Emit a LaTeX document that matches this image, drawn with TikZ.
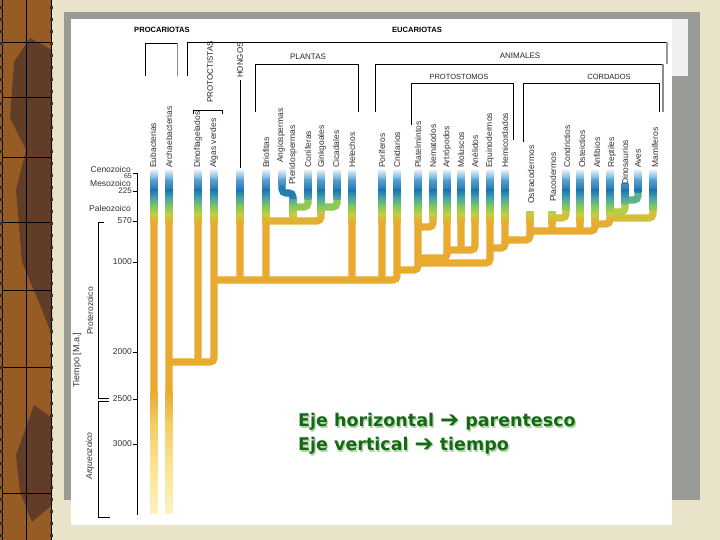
\documentclass[tikz,border=0pt]{standalone}
\usepackage{fontspec}
\setmainfont{Liberation Sans}
\newfontfamily\dejavu{DejaVu Sans}
\definecolor{bg}{RGB}{233,227,201}
\definecolor{brownA}{RGB}{150,92,36}
\definecolor{brownB}{RGB}{88,56,40}
\definecolor{framegray}{RGB}{155,155,150}
\definecolor{labgray}{RGB}{50,50,50}
\definecolor{g0}{RGB}{228,240,247}
\definecolor{g1}{RGB}{85,160,208}
\definecolor{g2}{RGB}{32,118,178}
\definecolor{g3}{RGB}{72,165,168}
\definecolor{g4}{RGB}{128,200,96}
\definecolor{g5}{RGB}{196,205,62}
\definecolor{g6}{RGB}{233,170,48}
\definecolor{g7}{RGB}{244,206,102}
\definecolor{g8}{RGB}{250,230,150}
\definecolor{g9}{RGB}{252,242,196}
\definecolor{eje}{RGB}{22,104,22}
\definecolor{ejeshadow}{RGB}{178,214,170}
\newcommand\gbar[3]{%
\begin{scope}
\clip ({#1-3.6},#2) rectangle ({#1+3.6},#3);
\shade[top color=g0,bottom color=g1] ({#1-3.6},170) rectangle ({#1+3.6},180.4);
\shade[top color=g1,bottom color=g2] ({#1-3.6},180) rectangle ({#1+3.6},190.4);
\shade[top color=g2,bottom color=g3] ({#1-3.6},190) rectangle ({#1+3.6},198.4);
\shade[top color=g3,bottom color=g4] ({#1-3.6},198) rectangle ({#1+3.6},206.4);
\shade[top color=g4,bottom color=g5] ({#1-3.6},206) rectangle ({#1+3.6},214.4);
\shade[top color=g5,bottom color=g6] ({#1-3.6},214) rectangle ({#1+3.6},222.4);
\fill[g6] ({#1-3.6},222) rectangle ({#1+3.6},390.4);
\shade[top color=g6,bottom color=g7] ({#1-3.6},390) rectangle ({#1+3.6},425.4);
\shade[top color=g7,bottom color=g8] ({#1-3.6},425) rectangle ({#1+3.6},470.4);
\shade[top color=g8,bottom color=g9] ({#1-3.6},470) rectangle ({#1+3.6},516);
\end{scope}}
\tikzset{
  conn/.style={line width=7.2pt, rounded corners=4pt},
  lbl/.style={rotate=90, anchor=west, inner sep=0pt, text=labgray, font=\fontsize{8.5}{9}\selectfont},
  head/.style={inner sep=0pt, text=black, font=\fontsize{7.6}{8}\selectfont\bfseries},
  grp/.style={inner sep=0pt, text=black!85, font=\fontsize{8}{9}\selectfont},
  axl/.style={inner sep=0pt, anchor=east, text=labgray, font=\fontsize{8.5}{9}\selectfont},
  brk/.style={line width=0.9pt, black},
  ejet/.style={anchor=west, inner sep=0pt, font=\dejavu\bfseries\fontsize{17.5}{19}\selectfont}
}
\newcommand\bigarrow{\raisebox{-0.5pt}{\scalebox{1.3}{➔}}}
\begin{document}
\begin{tikzpicture}[x=1pt,y=-1pt]
\useasboundingbox (0,0) rectangle (720,540);
\fill[bg] (0,0) rectangle (720,540);
% notebook strip
\fill[brownA] (0,0) rectangle (52,540);
\fill[brownB, opacity=0.85] (14,62) -- (30,38) -- (52,50) -- (52,335) -- (38,300) -- (22,262) -- (16,190) -- (26,150) -- (10,118) -- cycle;
\fill[brownB, opacity=0.85] (16,455) -- (34,405) -- (52,418) -- (52,505) -- (32,522) -- (20,492) -- cycle;
\draw[black, line width=0.9pt] (2,0) -- (2,540) (51,0) -- (51,540) (26,0) -- (26,540);
\foreach \yy in {42,97,157,222,290,367,493} \draw[black, line width=0.8pt] (2,\yy) -- (51,\yy);
\foreach \yy in {6,18,...,540} {\fill[black!80] (0,\yy) rectangle (2.5,{\yy+3}); \fill[black!80] (50,\yy) rectangle (53,{\yy+3});}
% slide frame
\fill[framegray] (64,12) rectangle (700,500);
\fill[white] (71,19) rectangle (672,525);
\fill[white!94!black] (672,19) rectangle (688,76);
% top brackets
\node[head] (procar) at (162,30) {PROCARIOTAS};
\node[head] (eucar) at (417,30) {EUCARIOTAS};
\draw[brk] (145,76) -- (145,43) -- (177,43);
\draw[line width=0.9pt, black!45] (177,43) -- (177,76);
\draw[brk] (187,76) -- (187,42) -- (667,42);
\draw[line width=1.2pt, black!40] (667,42) -- (667,64);
\node[grp, rotate=90, anchor=west] (protoc) at (210,103) {PROTOCTISTAS};
\draw[brk] (193,114) -- (193,110) -- (222,110) -- (222,114);
\node[grp, rotate=90, anchor=west] (hongos) at (240,78) {HONGOS};
\draw[brk] (240,80) -- (240,168);
\node[grp] (plantas) at (308,57) {PLANTAS};
\draw[brk] (255,112) -- (255,64) -- (358,64) -- (358,112);
\node[grp] (animales) at (520,56) {ANIMALES};
\draw[brk] (375,112) -- (375,64) -- (663,64);
\draw[line width=1.1pt, black!45] (663,64) -- (663,112);
\node[grp, font=\fontsize{7.5}{8}\selectfont] (protost) at (459,77) {PROTOSTOMOS};
\draw[brk] (411,125) -- (411,83) -- (513,83) -- (513,140);
\node[grp, font=\fontsize{7.5}{8}\selectfont] (cordados) at (609,77) {CORDADOS};
\draw[brk] (523,142) -- (523,83) -- (659,83) -- (659,112);
% time axis
\draw[line width=0.8pt, black] (133,173) -- (137,173) -- (137,515);
\foreach \yy in {191,221,262,352,399,444} \draw[line width=0.8pt] (133,\yy) -- (137,\yy);
\node[axl] (cen) at (131,169) {Cenozoico};
\node[axl, font=\fontsize{7}{8}\selectfont] (t65) at (132,176) {65};
\node[axl] (mes) at (131,183) {Mesozoico};
\node[axl, font=\fontsize{8}{9}\selectfont] (t225) at (132,191) {225};
\node[axl] (pal) at (131,208) {Paleozoico};
\node[axl] (t570) at (132,221) {570};
\node[axl] (t1000) at (132,262) {1000};
\node[axl] (t2000) at (132,352) {2000};
\node[axl] (t2500) at (132,399) {2500};
\node[axl] (t3000) at (132,444) {3000};
\draw[line width=0.8pt] (104,222) -- (98,222) -- (98,398) -- (109,398);
\draw[line width=0.8pt] (109,401) -- (98,401) -- (98,517) -- (110,517);
\node[inner sep=0pt, rotate=90, text=labgray, font=\fontsize{8.5}{9}\selectfont] (prot) at (90,311) {Proterozoico};
\node[inner sep=0pt, rotate=90, text=labgray, font=\itshape\fontsize{8.5}{9}\selectfont] (arq) at (90,456) {Arqueozoico};
\node[inner sep=0pt, rotate=90, text=labgray, font=\fontsize{9}{10}\selectfont] (tiempo) at (77,360) {Tiempo [M.a.]};
% ---------- tree connectors ----------
\draw[conn, g6] (214,354) -- (214,362) -- (169,362);
\draw[conn, g6] (397,272) -- (397,280) -- (214,280);
% plants
\draw[conn, g6!80!g5] (321,214) -- (321,221) -- (266,221);
\draw[conn, g4!80!g5] (337,200) -- (337,207) -- (321,207);
\draw[conn, g2!85!g3] (282,186) -- (282,193) -- (293,193) -- (293,200);
\draw[conn, g4!80!g5] (308,200) -- (308,207) -- (293,207);
% animals
\draw[conn, g6] (418,263) -- (418,270) -- (397,270);
\draw[conn, g6!90!g5] (433,220) -- (433,227) -- (418,227);
\draw[conn, g6] (475,243) -- (475,250) -- (447,250);
\draw[conn, g6] (447,251) -- (447,258) -- (418,258);
\draw[conn, g6] (490,256) -- (490,263) -- (418,263);
\draw[conn, g6] (505,241) -- (505,248) -- (490,248);
\draw[conn, g6] (530,233) -- (530,240) -- (505,240);
\draw[conn, g3!60!g4] (638,193) -- (638,200) -- (625,200);
\draw[conn, g5!80!g4] (625,205) -- (625,212) -- (610,212);
\draw[conn, g5!60!g6] (653,211) -- (653,218) -- (610,218);
\draw[conn, g6!85!g5] (610,217) -- (610,224) -- (595,224);
\draw[conn, g6] (595,224) -- (595,231) -- (530,231);
\draw[conn, g5!60!g6] (566,211) -- (566,218) -- (552,218);
% ---------- gradient branches ----------
\gbar{154}{170}{513}
\gbar{169}{170}{513}
\gbar{198}{170}{362}
\gbar{214}{170}{354}
\gbar{240}{170}{280}
\gbar{266}{170}{280}
\gbar{282}{170}{186}
\gbar{293}{200}{221}
\gbar{308}{170}{200}
\gbar{321}{170}{214}
\gbar{337}{170}{200}
\gbar{352}{170}{280}
\gbar{382}{170}{280}
\gbar{397}{170}{272}
\gbar{418}{170}{263}
\gbar{433}{170}{220}
\gbar{447}{170}{251}
\gbar{461}{170}{250}
\gbar{475}{170}{243}
\gbar{490}{170}{256}
\gbar{505}{170}{241}
\gbar{530}{212}{233}
\gbar{552}{212}{231}
\gbar{566}{170}{211}
\gbar{580}{170}{231}
\gbar{595}{170}{224}
\gbar{610}{170}{217}
\gbar{625}{184}{205}
\gbar{638}{170}{193}
\gbar{653}{170}{211}
% ---------- labels ----------
\node[lbl] (l1) at (153,168) {Eubacterias};
\node[lbl] (l2) at (169,168) {Archaebacterias};
\node[lbl] (l3) at (198,168) {Dinoflagelados};
\node[lbl] (l4) at (214,168) {Algas verdes};
\node[lbl] (l5) at (266,168) {Briofitas};
\node[lbl] (l6) at (281,163) {Angiospermas};
\node[lbl] (l7) at (293,185) {Pteridospermas};
\node[lbl] (l8) at (308,168) {Coníferas};
\node[lbl] (l9) at (322,168) {Ginkgoales};
\node[lbl] (l10) at (336,168) {Cicadales};
\node[lbl] (l11) at (352,168) {Helechos};
\node[lbl] (l12) at (382,168) {Poríferos};
\node[lbl] (l13) at (397,168) {Cnidarios};
\node[lbl] (l14) at (418,168) {Platelmintos};
\node[lbl] (l15) at (433,168) {Nematodos};
\node[lbl] (l16) at (447,168) {Artrópodos};
\node[lbl] (l17) at (461,168) {Moluscos};
\node[lbl] (l18) at (475,168) {Anélidos};
\node[lbl] (l19) at (490,168) {Equinodermos};
\node[lbl] (l20) at (505,168) {Hemicordados};
\node[lbl] (l21) at (531,204) {Ostracodermos};
\node[lbl] (l22) at (553,202) {Placodermos};
\node[lbl] (l23) at (567,168) {Condrictios};
\node[lbl] (l24) at (582,168) {Osteictios};
\node[lbl] (l25) at (597,168) {Anfibios};
\node[lbl] (l26) at (612,168) {Reptiles};
\node[lbl] (l27) at (625,185) {Dinosaurios};
\node[lbl] (l28) at (638,168) {Aves};
\node[lbl] (l29) at (655,168) {Mamíferos};
% ---------- green text ----------
\node[ejet, text=ejeshadow] at (299.3,423.3) {Eje horizontal \bigarrow{} parentesco};
\node[ejet, text=ejeshadow] at (299.3,447.3) {Eje vertical \bigarrow{} tiempo};
\node[ejet, text=eje] (eje1) at (298,422) {Eje horizontal \bigarrow{} parentesco};
\node[ejet, text=eje] (eje2) at (298,446) {Eje vertical \bigarrow{} tiempo};
\end{tikzpicture}
\end{document}
